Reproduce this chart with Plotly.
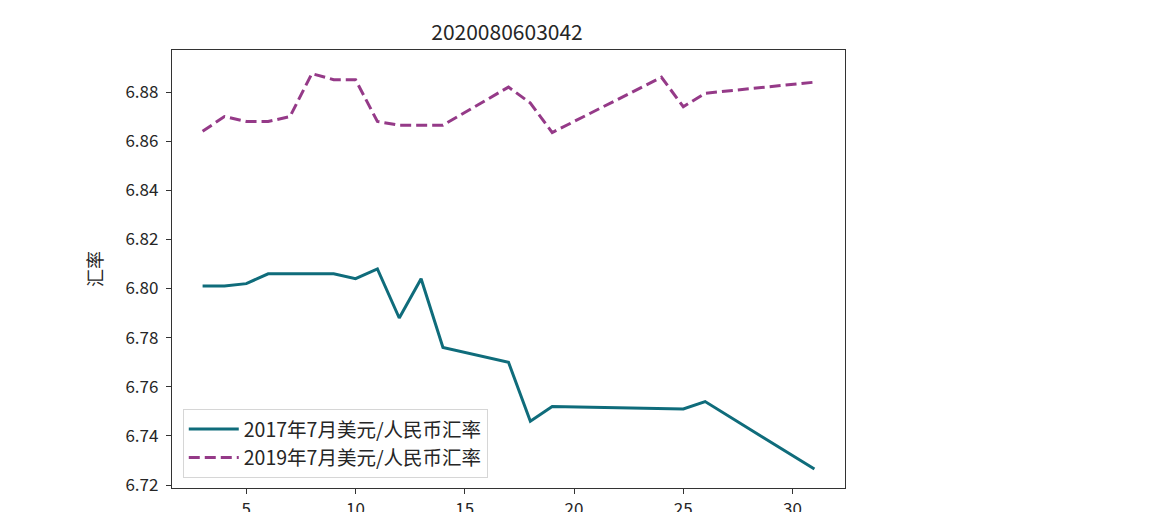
import plotly.graph_objects as go

# 2017年7月 (trading days)
days_2017 = [3, 4, 5, 6, 7, 8, 9, 10, 11, 12, 13, 14, 17, 18, 19, 25, 26, 31]
rate_2017 = [6.801, 6.801, 6.802, 6.806, 6.806, 6.806, 6.806, 6.804, 6.808, 6.788,
             6.804, 6.776, 6.770, 6.746, 6.752, 6.751, 6.754, 6.7265]

# 2019年7月
days_2019 = [3, 4, 5, 6, 7, 8, 9, 10, 11, 12, 13, 14, 17, 18, 19, 24, 25, 26, 31]
rate_2019 = [6.864, 6.870, 6.868, 6.868, 6.870, 6.8875, 6.885, 6.885, 6.868, 6.8665,
             6.8665, 6.8665, 6.882, 6.8755, 6.8635, 6.886, 6.874, 6.8795, 6.884]

font = "Noto Sans CJK SC, Noto Sans, sans-serif"

W, H = 1162, 504   # page body has an 8px margin
fig = go.Figure()
fig.add_trace(go.Scatter(x=days_2017, y=rate_2017, mode="lines",
                         name="2017年7月美元/人民币汇率",
                         line=dict(color="#0f6c7b", width=3)))
fig.add_trace(go.Scatter(x=days_2019, y=rate_2019, mode="lines",
                         name="2019年7月美元/人民币汇率",
                         line=dict(color="#953a88", width=3, dash="11px,5px")))

fig.update_layout(
    width=W, height=H,
    margin=dict(l=164, r=W - 837, t=42, b=H - 480),
    paper_bgcolor="white", plot_bgcolor="white",
    font=dict(family=font, size=17, color="#262626"),
    title=dict(text="2020080603042", x=499 / W, xanchor="center",
               y=1 - 25 / H, yanchor="middle", font=dict(size=21, color="#262626")),
    legend=dict(x=0.016, y=0.023, xanchor="left", yanchor="bottom",
                bgcolor="rgba(255,255,255,0.8)", bordercolor="#d6d6d6", borderwidth=1,
                font=dict(size=19.5, color="#262626"), tracegroupgap=2, itemwidth=50),
    showlegend=True,
)
fig.update_xaxes(range=[1.6, 32.4], tickvals=[5, 10, 15, 20, 25, 30], automargin=False,
                 showgrid=False, zeroline=False, showline=True, linecolor="#333",
                 linewidth=1.3, mirror=True, ticks="outside", ticklen=5, tickcolor="#333")
fig.update_yaxes(range=[6.7188, 6.8971], dtick=0.02, tick0=6.72, tickformat=".2f",
                 automargin=False, ticklabelstandoff=4,
                 title=dict(text="汇率", standoff=18, font=dict(size=18)),
                 showgrid=False, zeroline=False, showline=True, linecolor="#333",
                 linewidth=1.3, mirror=True, ticks="outside", ticklen=5, tickcolor="#333")

fig.write_html("out.html")
